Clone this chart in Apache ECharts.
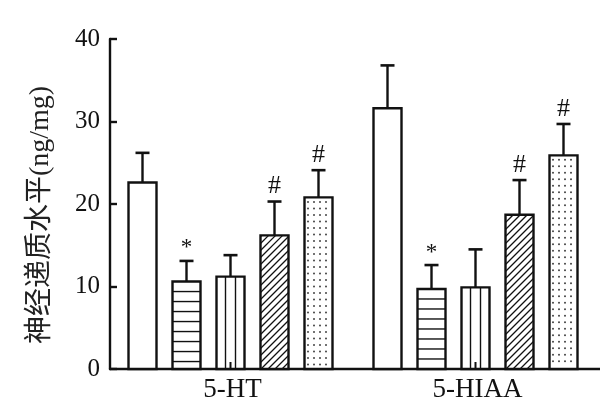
<!DOCTYPE html>
<html>
<head>
<meta charset="utf-8">
<script src="https://cdn.jsdelivr.net/npm/echarts@6/dist/echarts.min.js"></script>
<style>
html,body{margin:0;padding:0;background:#fff;}
#main{width:600px;height:409px;}
</style>
</head>
<body>
<div id="main"></div>
<script>
// ---- data ----
const categories = ['5-HT', '5-HIAA'];
const groupNames = ['组1', '组2', '组3', '组4', '组5'];
const meanHT   = [22.6, 10.6, 11.2, 16.2, 20.8];
const sdHT     = [3.6, 2.5, 2.6, 4.1, 3.3];
const meanHIAA = [31.6, 9.7, 9.9, 18.7, 25.9];
const sdHIAA   = [5.2, 2.9, 4.6, 4.2, 3.8];
const markHT   = ['', '*', '', '#', '#'];
const markHIAA = ['', '*', '', '#', '#'];
const yTicks = [0, 10, 20, 30, 40];

const means = [meanHT, meanHIAA];
const sds = [sdHT, sdHIAA];
const marks = [markHT, markHIAA];
const patterns = ['none', 'hlines', 'vlines', 'diag', 'dots'];

const serif = '"Liberation Serif", "Times New Roman", "Noto Sans CJK SC", serif';
const ink = '#111';

function makeRender(k) {
  return function (params, api) {
    const cat = api.value(0);
    const mean = api.value(1);
    const sd = api.value(2);
    const base = api.coord([cat, 0]);
    const topP = api.coord([cat, mean]);
    const errP = api.coord([cat, mean + sd]);
    const cx = base[0] + (k - 2) * 44 - 2;
    const w = 28;
    const x1 = cx - w / 2, x2 = cx + w / 2;
    const y1 = topP[1], y2 = base[1];
    const children = [];
    children.push({type: 'rect', shape: {x: x1, y: y1, width: w, height: y2 - y1},
      style: {fill: '#fff', stroke: 'none'}});
    const pat = patterns[k];
    const ls = {stroke: ink, lineWidth: 1.4};
    if (pat === 'hlines') {
      for (let yy = y1 + 10; yy < y2 - 2; yy += 10) {
        children.push({type: 'line', shape: {x1: x1, y1: yy, x2: x2, y2: yy}, style: ls});
      }
    } else if (pat === 'vlines') {
      children.push({type: 'line', shape: {x1: cx - 5, y1: y1, x2: cx - 5, y2: y2}, style: ls});
      children.push({type: 'line', shape: {x1: cx + 5, y1: y1, x2: cx + 5, y2: y2}, style: ls});
      children.push({type: 'line', shape: {x1: cx, y1: y2 - 7, x2: cx, y2: y2}, style: {stroke: ink, lineWidth: 2}});
    } else if (pat === 'diag') {
      const step = 7;
      const cStart = Math.ceil((x1 + y1) / step) * step;
      for (let c = cStart; c < x2 + y2; c += step) {
        const pxA = Math.max(x1, c - y2);
        const pxB = Math.min(x2, c - y1);
        if (pxB <= pxA) continue;
        children.push({type: 'line', shape: {x1: pxA, y1: c - pxA, x2: pxB, y2: c - pxB},
          style: {stroke: ink, lineWidth: 1.3}});
      }
    } else if (pat === 'dots') {
      for (let yy = y1 + 4.5; yy < y2 - 2; yy += 6.5) {
        for (let xx = x1 + 3.5; xx < x2 - 1.5; xx += 6) {
          children.push({type: 'circle', shape: {cx: xx, cy: yy, r: 1.0}, style: {fill: '#444'}});
        }
      }
    }
    // border
    children.push({type: 'rect', shape: {x: x1, y: y1, width: w, height: y2 - y1},
      style: {fill: 'none', stroke: ink, lineWidth: 2.4}});
    // error bar
    children.push({type: 'line', shape: {x1: cx, y1: y1, x2: cx, y2: errP[1]},
      style: {stroke: ink, lineWidth: 2.4}});
    children.push({type: 'line', shape: {x1: cx - 7, y1: errP[1], x2: cx + 7, y2: errP[1]},
      style: {stroke: ink, lineWidth: 2.6}});
    const m = marks[params.dataIndex][k];
    if (m) {
      children.push({type: 'text', x: cx, y: errP[1] - (m === '*' ? 1 : 2),
        style: {text: m, fill: ink, fontFamily: serif, fontSize: (m === '*' ? 23 : 26),
          align: 'center', verticalAlign: 'bottom'}});
    }
    return {type: 'group', children: children};
  };
}

const series = groupNames.map(function (name, k) {
  return {
    type: 'custom',
    name: name,
    renderItem: makeRender(k),
    encode: {x: 0, y: 1},
    data: categories.map(function (c, i) { return [i, means[i][k], sds[i][k]]; }),
    clip: false
  };
});

const chart = echarts.init(document.getElementById('main'), null, {renderer: 'canvas'});
chart.setOption({
  backgroundColor: '#fff',
  animation: false,
  grid: {left: 110, top: 39, width: 500, height: 330},
  xAxis: {
    type: 'category',
    data: categories,
    boundaryGap: true,
    axisLine: {lineStyle: {color: ink, width: 2.4}},
    axisTick: {show: false},
    axisLabel: {color: ink, fontFamily: serif, fontSize: 27, margin: 7}
  },
  yAxis: {
    type: 'value',
    min: 0, max: 40, interval: 10,
    name: '神经递质水平(ng/mg)',
    nameLocation: 'middle',
    nameGap: 55,
    nameRotate: 90,
    nameTextStyle: {color: '#222', fontFamily: serif, fontSize: 28, padding: [0, 22, 0, 0]},
    axisLine: {show: true, lineStyle: {color: ink, width: 2.4}},
    axisTick: {show: true, inside: true, length: 7, lineStyle: {color: ink, width: 2.4}},
    axisLabel: {color: ink, fontFamily: serif, fontSize: 25, margin: 10,
      formatter: function (v) { return yTicks.indexOf(v) >= 0 ? String(v) : ''; }},
    splitLine: {show: false}
  },
  series: series
});
</script>
</body>
</html>
